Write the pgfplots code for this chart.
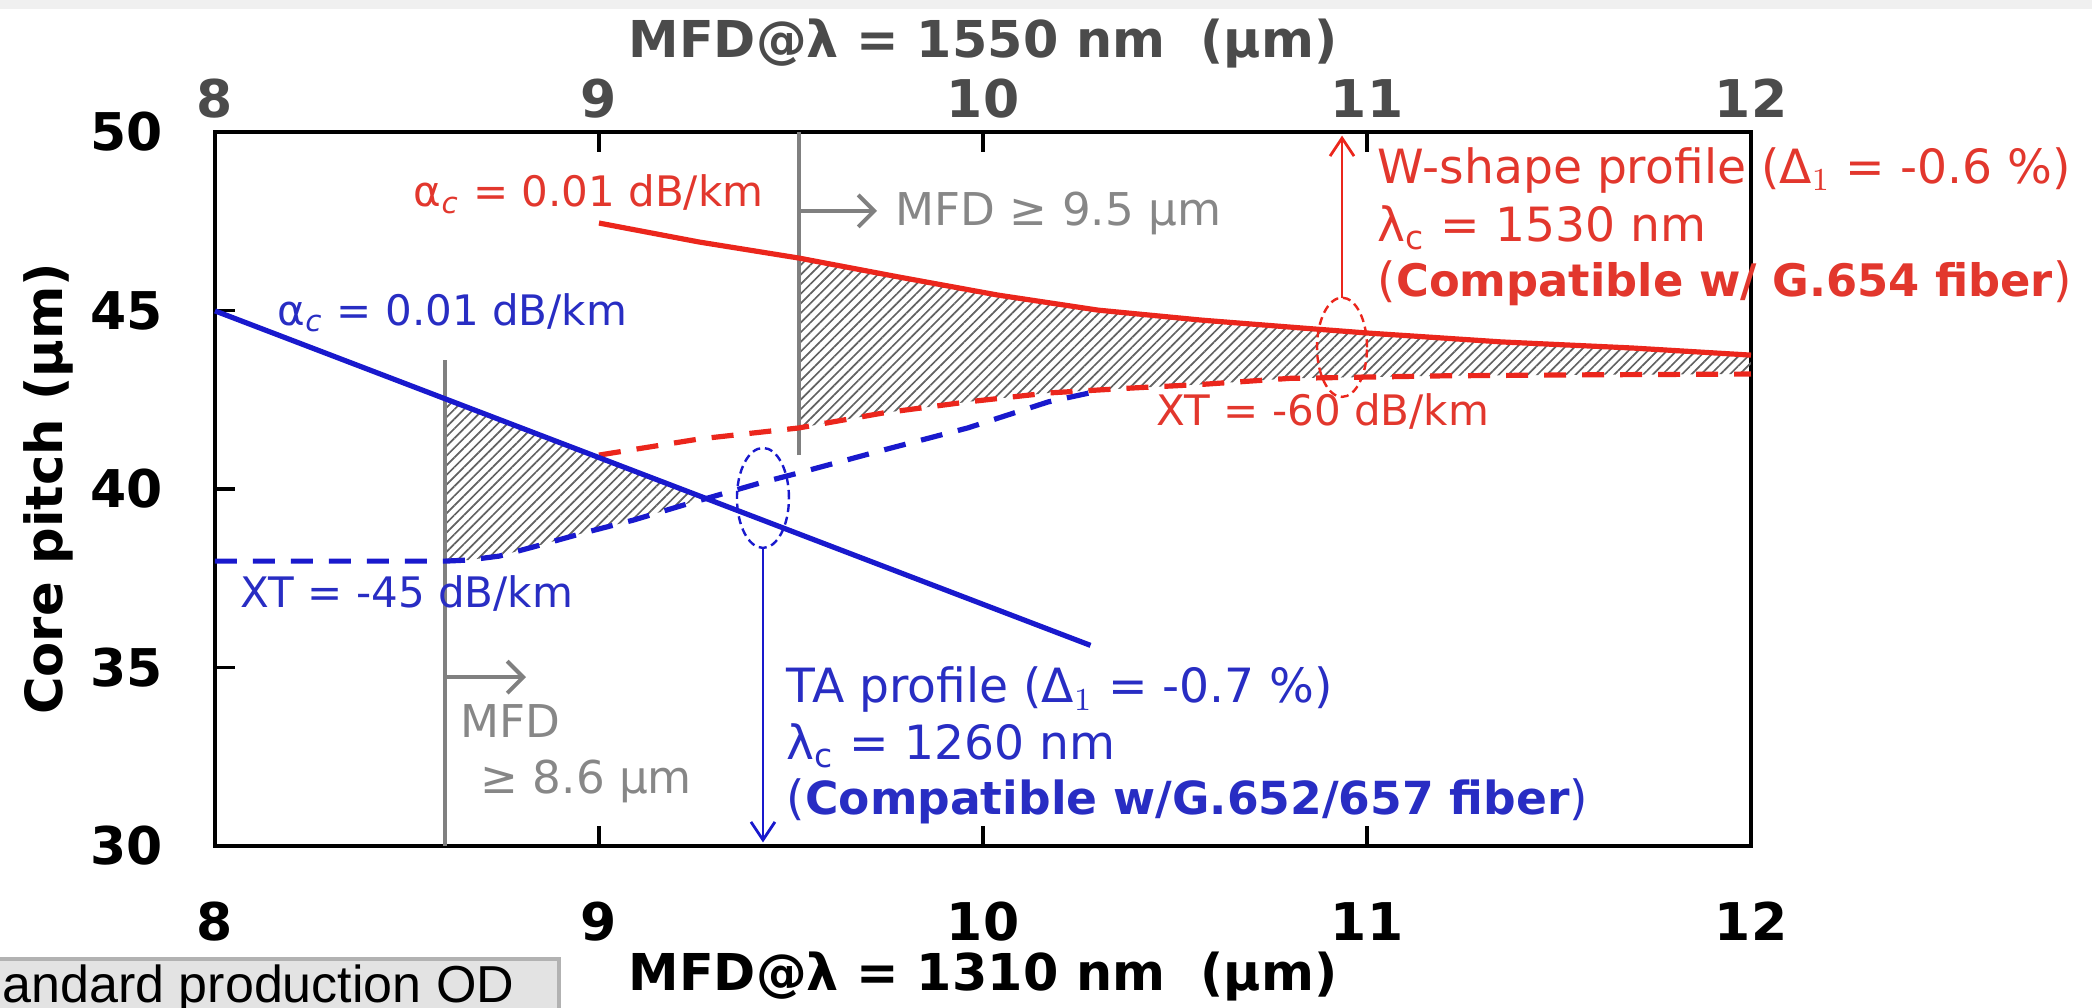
\documentclass[border=0pt]{standalone}
\usepackage{pgfplots}
\pgfplotsset{compat=1.18}
\usepackage{fontspec}
\setmainfont{DejaVu Sans}
\newfontfamily\boxfont{Liberation Sans}
\usetikzlibrary{patterns.meta,arrows.meta}
\definecolor{bl}{RGB}{25,25,205}
\definecolor{blt}{RGB}{40,45,195}
\definecolor{rd}{RGB}{235,38,28}
\definecolor{rdt}{RGB}{226,55,45}
\definecolor{gr}{RGB}{128,128,128}
\definecolor{grt}{RGB}{135,135,135}
\definecolor{topg}{RGB}{75,75,75}
\newcommand\fs[1]{\fontsize{#1}{#1}\selectfont}
\newcommand\sub[1]{\textsubscript{#1}}
\begin{document}
\begin{tikzpicture}
% top axis (MFD at 1550 nm)
\begin{axis}[at={(0,0)}, anchor=south west, scale only axis, width=384pt, height=178.5pt,
  xmin=8, xmax=12, ymin=30, ymax=50,
  axis x line*=top, axis y line=none,
  xtick={8,9,10,11,12}, tick align=inside, major tick length=5pt,
  tick style={line width=0.8pt, black},
  axis line style={line width=1pt},
  xticklabel style={font=\fs{13}\bfseries, text=topg},
  /pgf/number format/assume math mode=true]
\end{axis}
% main axis
\begin{axis}[at={(0,0)}, anchor=south west, scale only axis, width=384pt, height=178.5pt,
  xmin=8, xmax=12, ymin=30, ymax=50, clip=false,
  xtick={8,9,10,11,12}, ytick={30,35,40,45,50},
  xtick pos=bottom, ytick pos=left, tick align=inside, major tick length=5pt,
  tick style={line width=0.8pt, black},
  axis line style={line width=1pt},
  xticklabel style={font=\fs{13}\bfseries, yshift=-10.5pt},
  yticklabel style={font=\fs{13}\bfseries, xshift=-9.5pt},
  /pgf/number format/assume math mode=true]

% hatched regions
\addplot[draw=none, pattern={Lines[angle=45,distance=1.7pt,line width=0.42pt]}, pattern color=black!62]
  coordinates {(8.6,37.98) (8.6,42.53) (9.27,39.75) (9.22,39.55) (9.09,39.13) (8.96,38.77) (8.83,38.38) (8.74,38.12) (8.66,38.01) (8.6,37.98)} -- cycle;
\addplot[draw=none, pattern={Lines[angle=45,distance=1.7pt,line width=0.42pt]}, pattern color=black!62]
  coordinates {(9.52,41.71) (9.52,46.47) (9.78,45.94) (10.04,45.43) (10.3,45.01) (10.57,44.73) (10.83,44.51) (11.0,44.37) (11.35,44.12) (11.69,43.95) (12.0,43.75)
  (12.0,43.22) (11.6,43.2) (11.2,43.17) (10.8,43.1) (10.57,42.93) (10.39,42.83) (10.17,42.69) (9.96,42.44) (9.74,42.13) (9.52,41.71)} -- cycle;

% gray MFD limits
\addplot[gr, line width=1pt] coordinates {(8.6,30) (8.6,43.6)};
\addplot[gr, line width=1pt] coordinates {(9.52,40.95) (9.52,50)};

% XT curves (dashed)
\addplot[bl, line width=1.3pt, dash pattern=on 5.5pt off 4pt] coordinates {
 (8.0,37.98) (8.6,37.98) (8.66,38.01) (8.74,38.12) (8.83,38.38) (8.96,38.77) (9.09,39.13) (9.22,39.55)
 (9.42,40.17) (9.52,40.45) (9.74,41.09) (9.96,41.71) (10.17,42.44) (10.29,42.72)};
\addplot[rd, line width=1.3pt, dash pattern=on 5.5pt off 4pt] coordinates {
 (9.0,40.95) (9.26,41.4) (9.52,41.71) (9.74,42.13) (9.96,42.44) (10.17,42.69) (10.39,42.83) (10.57,42.93)
 (10.8,43.1) (11.2,43.17) (11.6,43.2) (12.0,43.22)};

% cutoff loss curves (solid)
\addplot[bl, line width=1.3pt] coordinates {(8.0,44.99) (10.28,35.62)};
\addplot[rd, line width=1.3pt] coordinates {
 (9.0,47.45) (9.26,46.92) (9.52,46.47) (9.78,45.94) (10.04,45.43) (10.3,45.01) (10.57,44.73)
 (10.83,44.51) (11.0,44.37) (11.35,44.12) (11.69,43.95) (12.0,43.75)};

% ellipses and arrows
\draw[bl, line width=0.6pt, dash pattern=on 2pt off 1.2pt] (axis cs:9.427,39.75) ellipse [x radius=6.5pt, y radius=12.5pt];
\draw[rd, line width=0.6pt, dash pattern=on 2pt off 1.2pt] (axis cs:10.935,43.97) ellipse [x radius=6.25pt, y radius=12.4pt];
\draw[bl, line width=0.7pt, -{Straight Barb[length=4.5pt,width=6pt]}] (axis cs:9.427,38.35) -- (axis cs:9.427,30.1);
\draw[rd, line width=0.7pt, -{Straight Barb[length=4.5pt,width=6pt]}] (axis cs:10.935,45.35) -- (axis cs:10.935,49.9);
\draw[gr, line width=1pt, -{Straight Barb[length=4pt,width=8pt]}] (axis cs:9.52,47.79) -- (axis cs:9.724,47.79);
\draw[gr, line width=1pt, -{Straight Barb[length=4pt,width=8pt]}] (axis cs:8.6,34.73) -- (axis cs:8.81,34.73);

% annotations
\begin{scope}[every node/.style={anchor=base west, inner sep=0pt}]
\node[text=rdt, font=\fs{10.5}] at (axis cs:8.516,47.9) {α\sub{\itshape c} = 0.01 dB/km};
\node[text=blt, font=\fs{10.5}] at (axis cs:8.161,44.59) {α\sub{\itshape c} = 0.01 dB/km};
\node[text=blt, font=\fs{10.5}] at (axis cs:8.065,36.69) {XT = -45 dB/km};
\node[text=rdt, font=\fs{10.5}] at (axis cs:10.45,41.79) {XT = -60 dB/km};
\node[text=grt, font=\fs{11.3}] at (axis cs:9.771,47.39) {MFD ≥ 9.5 μm};
\node[text=grt, font=\fs{11.3}] at (axis cs:8.638,33.05) {MFD};
\node[text=grt, font=\fs{11.3}] at (axis cs:8.69,31.46) {≥ 8.6 μm};
\node[text=rdt, font=\fs{11.8}] at (axis cs:11.026,48.57) {W-shape profile (Δ$_1$ = -0.6 \%)};
\node[text=rdt, font=\fs{11.8}] at (axis cs:11.026,46.92) {λ\sub{c} = 1530 nm};
\node[text=rdt, font=\fs{11.8}] at (axis cs:11.026,45.38) {({\fs{11.2}\bfseries Compatible w/ G.654 fiber})};
\node[text=blt, font=\fs{11.8}] at (axis cs:9.487,34.01) {TA profile (Δ$_1$ = -0.7 \%)};
\node[text=blt, font=\fs{11.8}] at (axis cs:9.487,32.41) {λ\sub{c} = 1260 nm};
\node[text=blt, font=\fs{11.8}] at (axis cs:9.487,30.87) {({\fs{11.4}\bfseries Compatible w/G.652/657 fiber})};
\end{scope}

% axis labels
\node[anchor=base, font=\fs{12.7}\bfseries] at ([yshift=-36pt]rel axis cs:0.5,0) {MFD@λ = 1310 nm\ \ (μm)};
\node[anchor=base, font=\fs{12.7}\bfseries, text=topg] at ([yshift=18.75pt]rel axis cs:0.5,1) {MFD@λ = 1550 nm\ \ (μm)};
\node[rotate=90, font=\fs{12.8}\bfseries] at ([xshift=-41.75pt]rel axis cs:0,0.5) {Core pitch (μm)};
\end{axis}

% page decorations
\fill[gray!12] (-60pt,209.25pt) rectangle (480pt,220pt);
\draw[fill=gray!22, draw=gray!60, line width=0.8pt] (-60pt,-48pt) rectangle (86pt,-28.25pt);
\node[anchor=base west, inner sep=0pt, font=\boxfont\fs{13}] at (-53.3pt,-39.25pt) {andard production OD};
\pgfresetboundingbox
\path[use as bounding box] (-53.75pt,-40.5pt) rectangle (469.25pt,211.5pt);
\end{tikzpicture}
\end{document}
